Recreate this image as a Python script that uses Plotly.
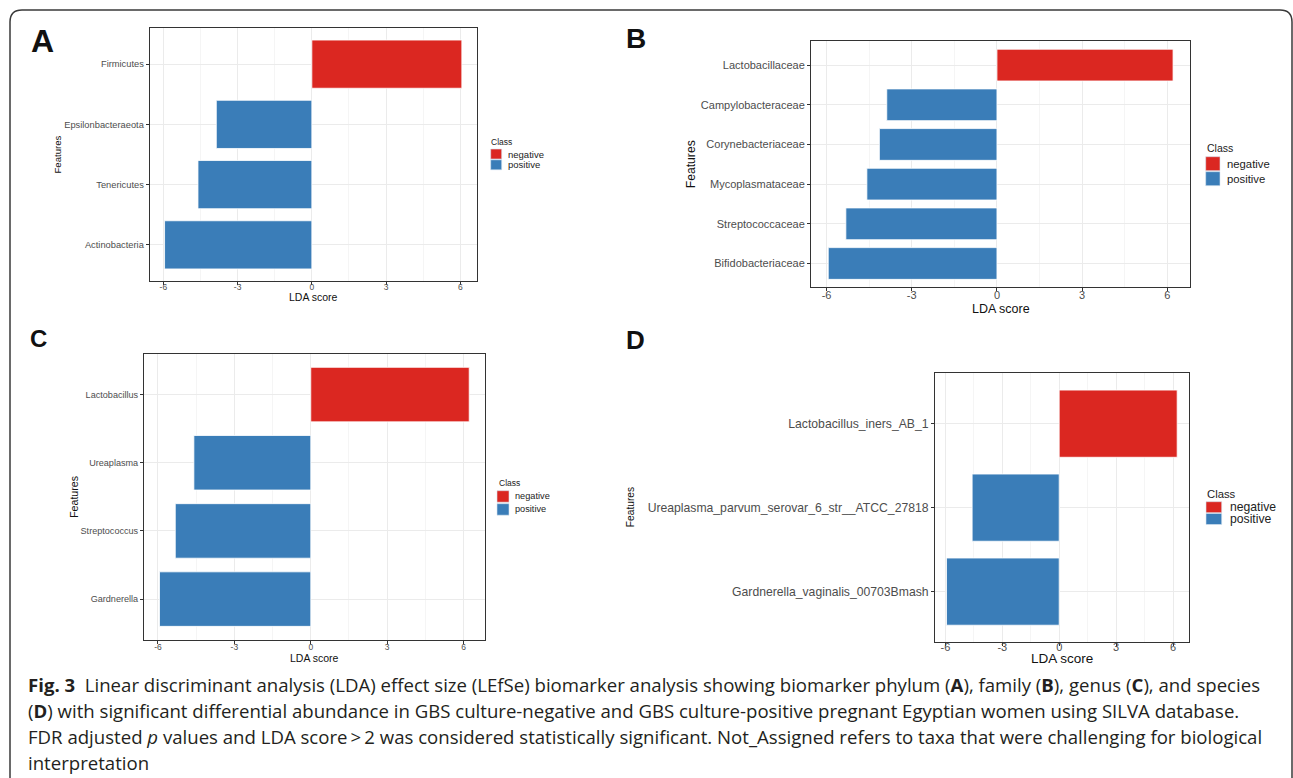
import plotly.graph_objects as go

W, H = 1293, 778

# ---------------- data ----------------
# Panel A: phylum (bottom -> top)
a_features = ["Actinobacteria", "Tenericutes", "Epsilonbacteraeota", "Firmicutes"]
a_scores = [-5.95, -4.60, -3.86, 6.06]
a_class = ["positive", "positive", "positive", "negative"]

# Panel B: family
b_features = ["Bifidobacteriaceae", "Streptococcaceae", "Mycoplasmataceae",
              "Corynebacteriaceae", "Campylobacteraceae", "Lactobacillaceae"]
b_scores = [-5.94, -5.32, -4.58, -4.14, -3.88, 6.20]
b_class = ["positive", "positive", "positive", "positive", "positive", "negative"]

# Panel C: genus
c_features = ["Gardnerella", "Streptococcus", "Ureaplasma", "Lactobacillus"]
c_scores = [-5.94, -5.32, -4.59, 6.22]
c_class = ["positive", "positive", "positive", "negative"]

# Panel D: species
d_features = ["Gardnerella_vaginalis_00703Bmash",
              "Ureaplasma_parvum_serovar_6_str__ATCC_27818",
              "Lactobacillus_iners_AB_1"]
d_scores = [-5.94, -4.59, 6.22]
d_class = ["positive", "positive", "negative"]

x_ticks = [-6, -3, 0, 3, 6]
class_names = ["negative", "positive"]
class_colors = {"negative": "#DB2721", "positive": "#3A7DB8"}

caption_lines = [
    "<b>Fig. 3</b>  Linear discriminant analysis (LDA) effect size (LEfSe) biomarker analysis showing biomarker phylum (<b>A</b>), family (<b>B</b>), genus (<b>C</b>), and species",
    "(<b>D</b>) with significant differential abundance in GBS culture-negative and GBS culture-positive pregnant Egyptian women using SILVA database.",
    "FDR adjusted <i>p</i> values and LDA score\u2009>\u20092 was considered statistically significant. Not_Assigned refers to taxa that were challenging for biological",
    "interpretation",
]

# ---------------- layout (pixels) ----------------
FONT = "Liberation Sans, Arial, sans-serif"
panels = [
    dict(letter="A", feats=a_features, scores=a_scores, cls=a_class,
         box=(149.7, 476.7, 28.0, 281.0), cat_font=9.3, tick_font=8.5, title_font=10.5, feat_font=9.6,
         tick_shift=-5,
         letter_pos=(42.5, 40.5, 32), feat_x=57, lda_y=296.7,
         leg=dict(x=489.3, title_y=141.7, title_font=8.5, sw_x=490.7, sw_w=11, top=149, pitch=10.8, sw_h=10, lab_x=505.5, lab_font=9.5)),
    dict(letter="B", feats=b_features, scores=b_scores, cls=b_class,
         box=(811.0, 1190.3, 41.3, 287.3), cat_font=11, tick_font=11, title_font=12.5, feat_font=12.2,
         tick_shift=-6,
         letter_pos=(635.6, 38.5, 28), feat_x=691, lda_y=308.7,
         leg=dict(x=1205.0, title_y=147.7, title_font=10.5, sw_x=1205.7, sw_w=14.3, top=156.7, pitch=15, sw_h=14, lab_x=1225, lab_font=11.3)),
    dict(letter="C", feats=c_features, scores=c_scores, cls=c_class,
         box=(144.0, 484.7, 353.7, 640.0), cat_font=9.1, tick_font=8.5, title_font=10.5, feat_font=10.6,
         tick_shift=-4,
         letter_pos=(38.7, 339.0, 24), feat_x=74, lda_y=658.3,
         leg=dict(x=497.0, title_y=482.7, title_font=8.5, sw_x=497, sw_w=12, top=490.7, pitch=13, sw_h=11.5, lab_x=513, lab_font=9.2)),
    dict(letter="D", feats=d_features, scores=d_scores, cls=d_class,
         box=(935.0, 1188.7, 373.3, 642.0), cat_font=12.2, tick_font=11, title_font=13.5, feat_font=10.2,
         tick_shift=-8,
         letter_pos=(635.2, 339.5, 26), feat_x=630.5, lda_y=658.7,
         leg=dict(x=1205.3, title_y=494.0, title_font=11.3, sw_x=1206, sw_w=15.7, top=501.7, pitch=11.8, sw_h=11, lab_x=1228, lab_font=12.2)),
]


def px(x):
    return x / W


def py(y):
    return 1 - y / H


fig = go.Figure()
annotations = []
shapes = []
layout_axes = {}

minor_vals = [(x_ticks[i] + x_ticks[i + 1]) / 2 for i in range(len(x_ticks) - 1)]

for i, p in enumerate(panels, start=1):
    xa = "x" if i == 1 else f"x{i}"
    ya = "y" if i == 1 else f"y{i}"
    xkey = "xaxis" if i == 1 else f"xaxis{i}"
    ykey = "yaxis" if i == 1 else f"yaxis{i}"

    for c in class_names:
        xs = [s for s, k in zip(p["scores"], p["cls"]) if k == c]
        ys = [f for f, k in zip(p["feats"], p["cls"]) if k == c]
        fig.add_trace(go.Bar(
            x=xs, y=ys, orientation="h", width=0.8, name=c,
            marker=dict(color=class_colors[c], line=dict(color="white", width=0.8)),
            xaxis=xa, yaxis=ya, showlegend=False,
        ))

    lo = min(min(p["scores"]), 0)
    hi = max(max(p["scores"]), 0)
    pad = 0.05 * (hi - lo)
    l, r, t, b = p["box"]
    n = len(p["feats"])

    layout_axes[xkey] = dict(
        domain=[px(l), px(r)], anchor=ya, range=[lo - pad, hi + pad],
        tickmode="array", tickvals=x_ticks, ticktext=[str(v) for v in x_ticks],
        ticks="outside", ticklen=3, tickwidth=1, tickcolor="#333333",
        ticklabelstandoff=p["tick_shift"],
        tickfont=dict(family=FONT, size=p["tick_font"], color="#4D4D4D"),
        showgrid=True, gridcolor="#EBEBEB", gridwidth=1, zeroline=False,
        minor=dict(tickmode="array", tickvals=minor_vals, showgrid=True,
                   gridcolor="#F5F5F5", gridwidth=1, ticks=""),
        showline=True, mirror=True, linecolor="#333333", linewidth=1,
        fixedrange=True,
    )
    layout_axes[ykey] = dict(
        domain=[py(b), py(t)], anchor=xa, type="category",
        categoryorder="array", categoryarray=p["feats"], range=[-0.6, n - 0.4],
        ticks="outside", ticklen=3, tickwidth=1, tickcolor="#333333",
        tickfont=dict(family=FONT, size=p["cat_font"], color="#4D4D4D"),
        showgrid=True, gridcolor="#EBEBEB", gridwidth=1, zeroline=False,
        showline=True, mirror=True, linecolor="#333333", linewidth=1,
        fixedrange=True,
    )

    # panel letter
    lx, ly, ls = p["letter_pos"]
    annotations.append(dict(text=f"<b>{p['letter']}</b>", x=px(lx), y=py(ly), xref="paper", yref="paper",
                            showarrow=False, xanchor="center", yanchor="middle",
                            font=dict(family=FONT, size=ls, color="#111111")))
    # axis titles
    annotations.append(dict(text="LDA score", x=px((l + r) / 2), y=py(p["lda_y"]), xref="paper", yref="paper",
                            showarrow=False, xanchor="center", yanchor="middle",
                            font=dict(family=FONT, size=p["title_font"], color="#111111")))
    annotations.append(dict(text="Features", x=px(p["feat_x"]), y=py((t + b) / 2), xref="paper", yref="paper",
                            showarrow=False, xanchor="center", yanchor="middle", textangle=-90,
                            font=dict(family=FONT, size=p["feat_font"], color="#111111")))

    # legend (Class)
    g = p["leg"]
    annotations.append(dict(text="Class", x=px(g["x"]), y=py(g["title_y"]), xref="paper", yref="paper",
                            showarrow=False, xanchor="left", yanchor="middle",
                            font=dict(family=FONT, size=g["title_font"], color="#222222")))
    for j, c in enumerate(class_names):
        top = g["top"] + j * g["pitch"]
        shapes.append(dict(type="rect", xref="paper", yref="paper",
                           x0=px(g["sw_x"]), x1=px(g["sw_x"] + g["sw_w"]),
                           y0=py(top + g["sw_h"]), y1=py(top),
                           fillcolor=class_colors[c], line=dict(color="#D8E4F0", width=0.6)))
        annotations.append(dict(text=c, x=px(g["lab_x"]), y=py(top + g["sw_h"] / 2), xref="paper", yref="paper",
                                showarrow=False, xanchor="left", yanchor="middle",
                                font=dict(family=FONT, size=g["lab_font"], color="#222222")))

# caption
cap_y = [684, 710, 736, 762]
for line, yy in zip(caption_lines, cap_y):
    annotations.append(dict(text=line, x=px(26), y=py(yy), xref="paper", yref="paper",
                            showarrow=False, xanchor="left", yanchor="middle",
                            font=dict(family="Open Sans, Noto Sans, sans-serif", size=18.6, color="#231F20")))

# outer rounded frame
x0f, x1f, y0f, rad = 10, 1292, 10, 12
path = (f"M {px(x0f)},{py(H + 5)} L {px(x0f)},{py(y0f + rad)} "
        f"Q {px(x0f)},{py(y0f)} {px(x0f + rad)},{py(y0f)} "
        f"L {px(x1f - rad)},{py(y0f)} Q {px(x1f)},{py(y0f)} {px(x1f)},{py(y0f + rad)} "
        f"L {px(x1f)},{py(H + 5)}")
shapes.append(dict(type="path", path=path, xref="paper", yref="paper",
                   line=dict(color="#3A3A3A", width=1.5)))

fig.update_layout(
    width=W, height=H, autosize=False,
    margin=dict(l=0, r=0, t=0, b=0, pad=0),
    paper_bgcolor="white", plot_bgcolor="white",
    barmode="overlay", showlegend=False,
    annotations=annotations, shapes=shapes,
    **layout_axes,
)

fig.write_html("out.html", config={"displayModeBar": False, "responsive": False},
               post_script="document.body.style.margin='0';document.body.style.overflow='hidden';")
